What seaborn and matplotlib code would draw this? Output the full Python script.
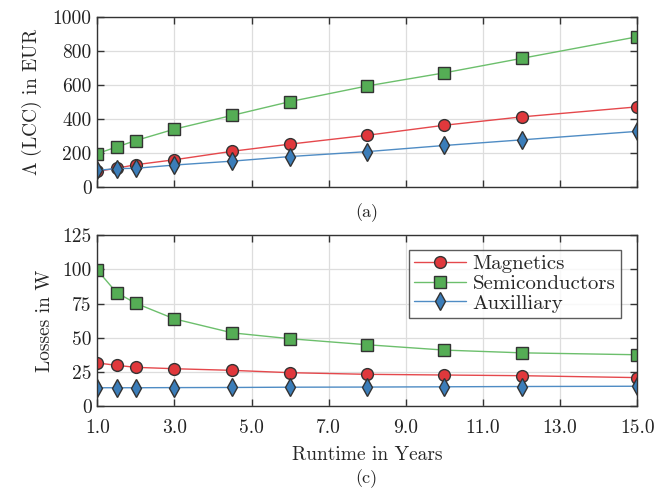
import matplotlib
matplotlib.use("Agg")
import matplotlib.pyplot as plt
import seaborn as sns
import pandas as pd

years = [1.0, 1.5, 2.0, 3.0, 4.5, 6.0, 8.0, 10.0, 12.0, 15.0]
series = ["Magnetics", "Semiconductors", "Auxilliary"]

lcc_magnetics = [92, 110, 131, 160, 210, 252, 304, 363, 412, 471]
lcc_semis = [196, 235, 273, 340, 421, 502, 594, 671, 756, 883]
lcc_aux = [98, 108, 110, 129, 152, 179, 208, 244, 277, 327]

loss_magnetics = [31.6, 29.9, 28.4, 27.4, 26.2, 24.5, 23.3, 22.8, 22.3, 20.9]
loss_semis = [99.5, 83.0, 75.2, 63.8, 53.6, 49.3, 44.9, 41.0, 39.0, 37.6]
loss_aux = [13.5, 13.5, 13.5, 13.6, 13.7, 13.9, 14.0, 14.2, 14.4, 14.6]

xticks = [1.0, 3.0, 5.0, 7.0, 9.0, 11.0, 13.0, 15.0]
yticks_top = [0, 200, 400, 600, 800, 1000]
yticks_bot = [0, 25, 50, 75, 100, 125]

sns.set_theme(style="whitegrid")
plt.rcParams["font.family"] = ["cmr10", "DejaVu Serif"]
plt.rcParams["mathtext.fontset"] = "cm"
plt.rcParams["axes.formatter.use_mathtext"] = True

colors = {"Magnetics": "#E0383C", "Semiconductors": "#55AD55", "Auxilliary": "#3B7DB9"}
line_colors = {"Magnetics": "#E5484C", "Semiconductors": "#6CBF6C", "Auxilliary": "#4F8CC4"}
markers = {"Magnetics": "o", "Semiconductors": "s", "Auxilliary": "d"}

def long_df(a, b, c):
    rows = []
    for name, vals in zip(series, [a, b, c]):
        for x, v in zip(years, vals):
            rows.append({"year": x, "value": v, "series": name})
    return pd.DataFrame(rows)

df_top = long_df(lcc_magnetics, lcc_semis, lcc_aux)
df_bot = long_df(loss_magnetics, loss_semis, loss_aux)

fig = plt.figure(figsize=(6.57, 4.96), dpi=100)
ax1 = fig.add_axes([0.148, 0.623, 0.822, 0.343])
ax2 = fig.add_axes([0.148, 0.181, 0.822, 0.345])

def draw(ax, df, yticks, ylabel, legend):
    for name in series:
        sub = df[df["series"] == name]
        sns.lineplot(data=sub, x="year", y="value", ax=ax, color=line_colors[name],
                     lw=1.0, marker=markers[name], markersize=9 if markers[name] != "o" else 8.5,
                     markerfacecolor=colors[name], markeredgecolor="#333333",
                     markeredgewidth=1.0, label=name, legend=False)
    ax.set_xlim(1, 15)
    ax.set_ylim(yticks[0], yticks[-1])
    ax.set_xticks(xticks)
    ax.set_yticks(yticks)
    ax.set_ylabel(ylabel, fontsize=14, labelpad=6)
    ax.grid(True, color="#DDDDDD", lw=0.9)
    for s in ax.spines.values():
        s.set_visible(True)
        s.set_color("#333333")
        s.set_linewidth(1.0)
    ax.tick_params(direction="in", length=5, width=1.0, color="#333333",
                   top=True, right=True, bottom=True, left=True,
                   labelsize=14, labelcolor="#222222", pad=4)
    ax.tick_params(axis="x", pad=9)
    if legend:
        handles, labels = ax.get_legend_handles_labels()
        leg = ax.legend(handles, labels, loc="upper right", fontsize=15,
                        bbox_to_anchor=(0.969, 0.915),
                        frameon=True, fancybox=False, edgecolor="#333333",
                        borderpad=0.25, labelspacing=0.05, handlelength=2.5,
                        handletextpad=0.3, borderaxespad=0.0)
        leg.get_frame().set_linewidth(1.0)

draw(ax1, df_top, yticks_top, r"$\Lambda$ (LCC) in EUR", False)
ax1.set_xlabel("")
ax1.set_xticklabels([])
ax1.yaxis.set_major_formatter(matplotlib.ticker.FormatStrFormatter("%d"))

draw(ax2, df_bot, yticks_bot, "Losses in W", True)
ax2.set_xticklabels([f"{t:.1f}" for t in xticks])
ax2.yaxis.set_major_formatter(matplotlib.ticker.FormatStrFormatter("%d"))
ax2.set_xlabel("Runtime in Years", fontsize=14, labelpad=7)

fig.text(0.558, 0.572, "(a)", ha="center", va="center", fontsize=13)
fig.text(0.558, 0.035, "(c)", ha="center", va="center", fontsize=13)

fig.savefig("out.png", dpi=100)
